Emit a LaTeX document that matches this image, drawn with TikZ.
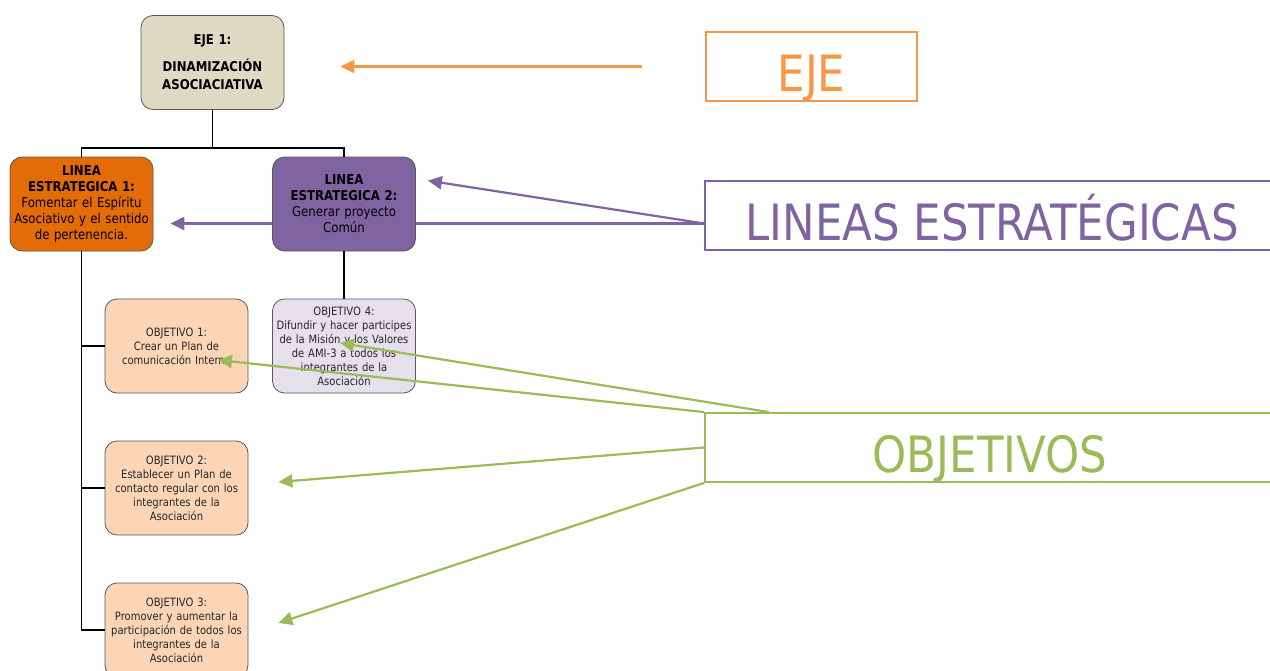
\documentclass[tikz,border=0pt]{standalone}
\usepackage{fontspec}
\setmainfont{DejaVu Sans}[FakeStretch=0.87]
\usepackage{tikz}
\usetikzlibrary{calc,arrows.meta,backgrounds}

\definecolor{ejefill}{HTML}{DDD9C3}
\definecolor{linafill}{HTML}{E36C09}
\definecolor{linbfill}{HTML}{8064A2}
\definecolor{objfill}{HTML}{FBD5B5}
\definecolor{objbfill}{HTML}{E5E0EC}
\definecolor{ejecol}{HTML}{F79646}
\definecolor{lincol}{HTML}{8064A2}
\definecolor{objcol}{HTML}{9BBB59}
\definecolor{boxline}{HTML}{595959}

\begin{document}
\begin{tikzpicture}[x=1pt, y=-1pt,
  box/.style={rectangle, rounded corners=12pt, draw=boxline, line width=0.8pt,
    minimum width=143pt, minimum height=94pt, text width=138pt, align=center, inner sep=0pt},
  objbox/.style={box, text=black!85, font=\fontsize{11.5}{14}\selectfont},
  tag/.style={rectangle, line width=1.8pt, minimum height=69pt, inner sep=0pt,
    text height=49pt, text depth=0pt, font=\fontsize{50}{50}\selectfont},
  tree/.style={line width=1.6pt},
  pointer/.style={line width=2.2pt, -{Triangle[length=14pt,width=13pt]}}]
  \useasboundingbox (0,0) rectangle (1270,670);

  % Eje and lineas
  \node[box, fill=ejefill, font=\bfseries\fontsize{13.5}{18}\selectfont] (eje) at (212.5,62.5)
    {EJE 1:\\[9pt]DINAMIZACIÓN\\ASOCIACIATIVA};
  \node[box, fill=linafill, font=\fontsize{13.5}{16}\selectfont] (lin1) at (81.5,204)
    {\textbf{LINEA}\\\textbf{ESTRATEGICA 1:}\\Fomentar el Espíritu\\Asociativo y el sentido\\de pertenencia.};
  \node[box, fill=linbfill, font=\fontsize{13.5}{16}\selectfont] (lin2) at (344,204)
    {\textbf{LINEA}\\\textbf{ESTRATEGICA 2:}\\Generar proyecto\\Común};

  % Objetivos
  \foreach \n/\y/\txt in {1/346/{Crear un Plan de\\comunicación Interna},
      2/488/{Establecer un Plan de\\contacto regular con los\\integrantes de la\\Asociación},
      3/630/{Promover y aumentar la\\participación de todos los\\integrantes de la\\Asociación}}
    \node[objbox, fill=objfill] (obj\n) at (176.5,\y) {OBJETIVO \n:\\\txt};
  \node[objbox, fill=objbfill] (obj4) at (344,346)
    {OBJETIVO 4:\\Difundir y hacer participes\\de la Misión y los Valores\\de AMI-3 a todos los\\integrantes de la\\Asociación};

  % Tree
  \draw[tree] (eje.south) -- ++(0,38) -| (lin1.north);
  \draw[tree] (eje.south) ++(0,38) -| (lin2.north);
  \draw[tree] (lin2.south) -- (obj4.north);
  \draw[tree] (lin1.south) |- (obj3.west);
  \draw[tree] (lin1.south |- obj1.west) -- (obj1.west);
  \draw[tree] (lin1.south |- obj2.west) -- (obj2.west);

  % Labels
  \node[tag, draw=ejecol, text=ejecol, minimum width=211pt] (ejeLbl) at (811.5,66.5) {EJE};
  \node[tag, draw=lincol, text=lincol, minimum width=574pt] (linLbl) at (992,215.5) {LINEAS ESTRATÉGICAS};
  \node[tag, draw=objcol, text=objcol, minimum width=570pt] (objLbl) at (990,447.5) {OBJETIVOS};

  % Arrows from the labels
  \draw[pointer, ejecol, shorten <=63pt, shorten >=56pt] (ejeLbl.west) -- (ejeLbl.west -| eje.east);

  \coordinate (linFoot) at ($(linLbl.west)+(0,8)$);
  \begin{pgfonlayer}{background}
    \draw[pointer, lincol, shorten >=17pt] (linFoot) -- (linFoot -| lin1.east);
  \end{pgfonlayer}
  \draw[pointer, lincol] (linFoot) -- ($(lin2.north east)+(12,24)$);

  \draw[pointer, objcol] ($(objLbl.north west)+(65,0)$) -- ($(obj4.center)+(-4,-3)$);
  \draw[pointer, objcol] (objLbl.north west) -- ($(obj1.center)+(41.5,14)$);
  \draw[pointer, objcol] (objLbl.west) -- ($(obj2.east)+(30,-6)$);
  \draw[pointer, objcol] (objLbl.south west) -- ($(obj3.east)+(30,-7)$);
\end{tikzpicture}
\end{document}
